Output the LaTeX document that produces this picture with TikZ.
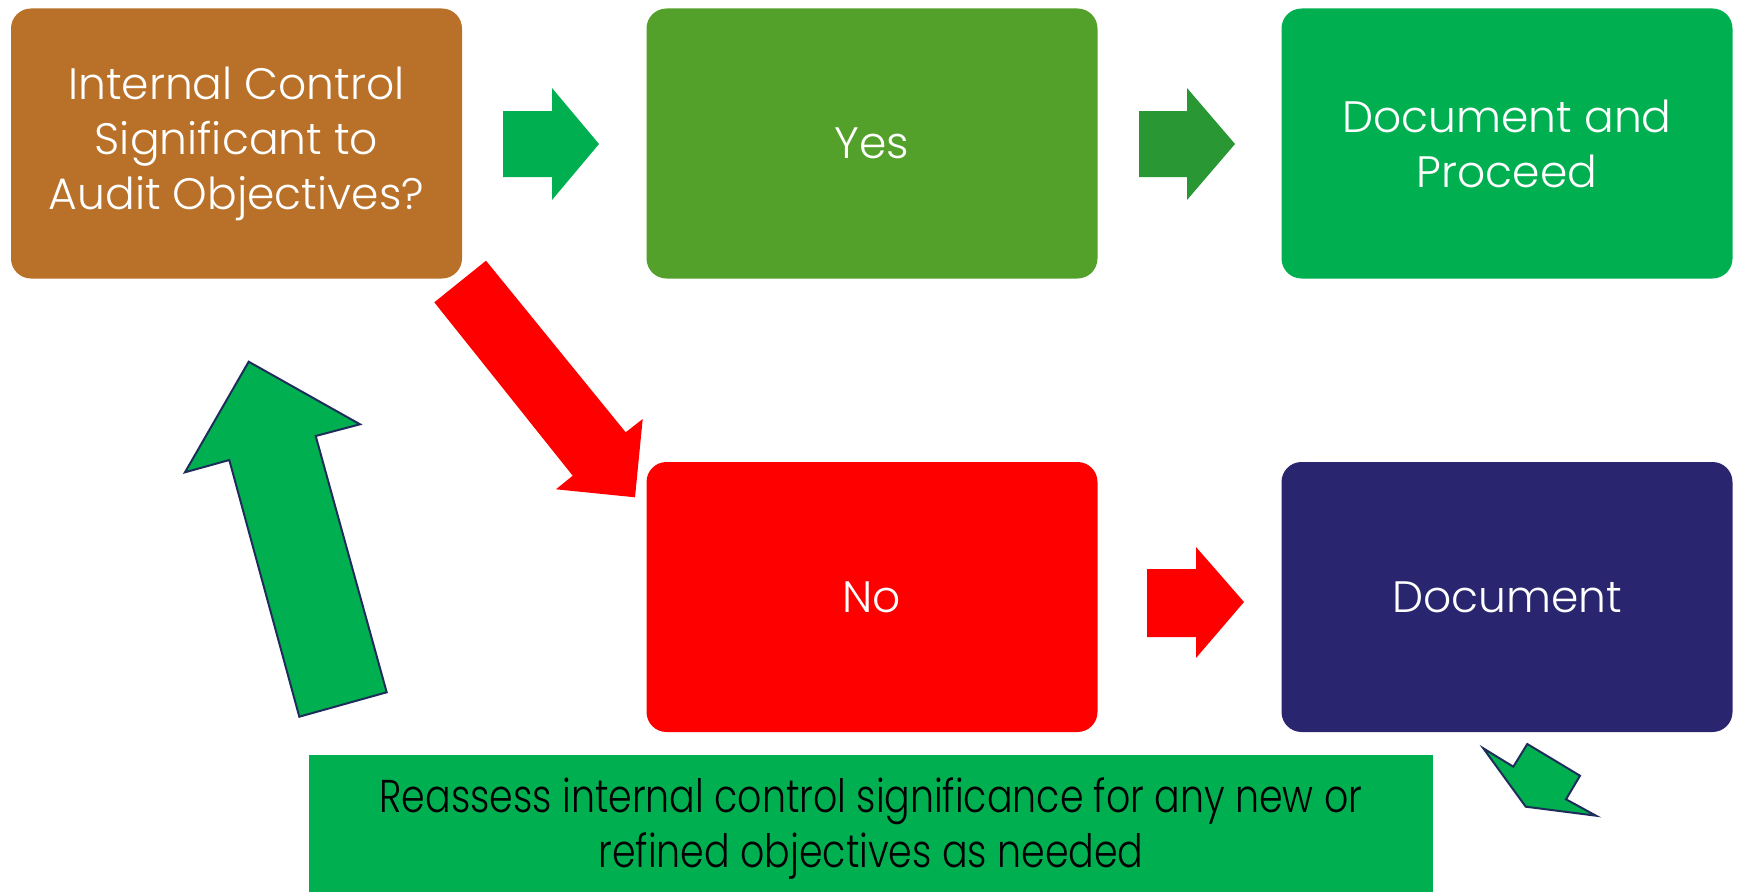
\documentclass[tikz,border=0pt]{standalone}
\usepackage{fontspec}
\setmainfont{Poppins}[UprightFont=* Light]
\definecolor{cBrown}{RGB}{185,113,41}
\definecolor{cLeaf}{RGB}{83,160,43}
\definecolor{cGreen}{RGB}{0,176,80}
\definecolor{cDkGreen}{RGB}{41,152,52}
\definecolor{cRed}{RGB}{255,0,0}
\definecolor{cNavy}{RGB}{41,37,110}
\definecolor{cEdge}{RGB}{31,45,90}
\begin{document}
\begin{tikzpicture}[x=1pt,y=-1pt,
  box/.style={rounded corners=20pt, minimum width=451pt, minimum height=270pt,
    inner sep=0pt, text=white, align=center, font=\fontsize{44}{55}\selectfont}]
\useasboundingbox (0,0) rectangle (1739,891);
\node[box, fill=cBrown] (q) at (236.5,143.5) {Internal Control\\Significant to\\Audit Objectives?};
\node[box, fill=cLeaf] (yes) at (872,143.5) {Yes};
\node[box, fill=cGreen] (proc) at (1507,143.5) {Document and\\Proceed};
\node[box, fill=cRed] (no) at (872,597) {No};
\node[box, fill=cNavy] (doc) at (1507,597) {Document};
\node[fill=cGreen, minimum width=1124pt, minimum height=147pt, inner sep=0pt, align=center,
  font=\fontsize{46}{55}\selectfont] (re) at (871,828.5)
  {\scalebox{0.824}[1]{Reassess internal control significance for any new or}\\
   \scalebox{0.824}[1]{refined objectives as needed}};
% arrows
\fill[cGreen] (503,111) -- (552,111) -- (552,88) -- (599,144) -- (552,200) -- (552,177) -- (503,177) -- cycle;
\fill[cDkGreen] (1139,111) -- (1187,111) -- (1187,88) -- (1235,144) -- (1187,200) -- (1187,177) -- (1139,177) -- cycle;
\fill[cRed] (1147,569) -- (1196,569) -- (1196,547) -- (1244,602) -- (1196,658) -- (1196,637) -- (1147,637) -- cycle;
\fill[cRed] (434.3,302.3) -- (486,260.7) -- (625.7,432.3) -- (642.7,419) -- (635,497.3) -- (556,489.3) -- (572.7,475.7) -- cycle;
\filldraw[fill=cGreen, draw=cEdge, line width=2pt] (248.7,361.7) -- (360,424.3) -- (315.7,436) -- (386.7,692.3) -- (299.3,716.7) -- (229.3,460) -- (185,472.3) -- cycle;
\filldraw[fill=cGreen, draw=cEdge, line width=2pt] (1483.3,748.3) -- (1513.3,766.7) -- (1527.3,744) -- (1580,775.7) -- (1566,799.3) -- (1596,815.7) -- (1525.7,806.7) -- cycle;
\end{tikzpicture}
\end{document}
